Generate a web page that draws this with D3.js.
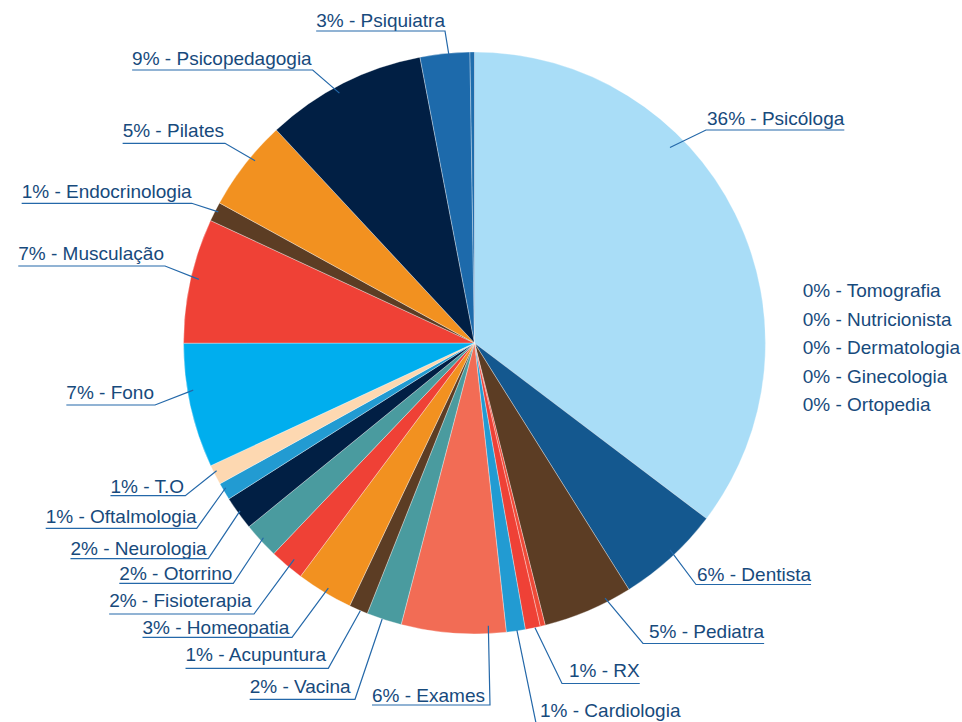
<!DOCTYPE html>
<html>
<head>
<meta charset="utf-8">
<script src="https://cdn.jsdelivr.net/npm/d3@7"></script>
<style>
  html, body { margin: 0; padding: 0; background: #ffffff; }
  svg { display: block; }
  text { font-family: "Liberation Sans", Arial, Helvetica, sans-serif; }
</style>
</head>
<body>
<svg id="chart" width="962" height="722"></svg>
<script>
// ---------- data ----------
const categories = [
  "Psicóloga", "Dentista", "Pediatra", "outros-1", "RX", "Cardiologia", "Exames",
  "Vacina", "Acupuntura", "Homeopatia", "Fisioterapia", "Otorrino", "Neurologia",
  "Oftalmologia", "T.O", "Fono", "Musculação", "Endocrinologia", "Pilates",
  "Psicopedagogia", "Psiquiatra", "outros-2"
];
const values = [
  35.3, 5.78, 5.0, 0.28, 0.83, 1.05, 5.8,
  1.95, 1.05, 3.14, 1.92, 2.0, 1.88,
  0.96, 1.11, 6.92, 6.92, 1.08, 5.08,
  8.92, 2.75, 0.25
];
const percentLabels = [
  "36%", "6%", "5%", "", "1%", "1%", "6%",
  "2%", "1%", "3%", "2%", "2%", "2%",
  "1%", "1%", "7%", "7%", "1%", "5%",
  "9%", "3%", ""
];
const zeroCategories = ["Tomografia", "Nutricionista", "Dermatologia", "Ginecologia", "Ortopedia"];
const zeroPercent = "0%";

// ---------- styles ----------
const colors = [
  "#a9ddf7", "#14588f", "#5c3d24", "#ef4a38", "#ef4136", "#229bd2", "#f26c55",
  "#4a9b9f", "#5c3d24", "#f29120", "#ef4136", "#4a9b9f", "#011f44",
  "#229bd2", "#fdd8b1", "#00aeee", "#ef4136", "#5c3d24", "#f29120",
  "#011f44", "#1d6aab", "#1f6dad"
];
const textColor = "#174a7c";
const lineColor = "#2468a9";

// ---------- label layout (annotation placement) ----------
// side, text x (start for R, end for L), baseline, underline y, elbow x, anchor angle (deg), anchor radius factor
const labelLayout = {
  "Psicóloga":      ["R", 707,   125,   130,   706,   45,    0.95],
  "Dentista":       ["R", 697,   581,   584.5, 696,   136.6, 0.978],
  "Pediatra":       ["R", 649,   638,   643.5, 643,   152.9, 0.985],
  "RX":             ["R", 569,   677,   683.5, 562,   168.0, 1.0],
  "Cardiologia":    ["R", 540,   717,   723,   536,   171.6, 0.997],
  "Exames":         ["L", 485,   701.7, 705,   490,   177.2, 0.973],
  "Vacina":         ["L", 350.7, 692.7, 699.3, 355,   198.5, 1.0],
  "Acupuntura":     ["L", 326,   660.7, 668.3, 328.3, 203.1, 1.0],
  "Homeopatia":     ["L", 289.3, 634.3, 637.3, 292,   210.8, 0.981],
  "Fisioterapia":   ["L", 251.7, 607.3, 614,   254,   219.8, 0.968],
  "Otorrino":       ["L", 232.3, 580,   583.3, 233.3, 227.3, 0.987],
  "Neurologia":     ["L", 206.7, 555,   558.7, 208.3, 234.4, 0.991],
  "Oftalmologia":   ["L", 196.7, 522.7, 528.3, 196.7, 239.8, 0.989],
  "T.O":            ["L", 184,   493.3, 495.7, 185.3, 243.65,0.989],
  "Fono":           ["L", 154,   399.3, 405,   155,   260.5, 0.98],
  "Musculação":     ["L", 164,   260,   266,   165,   283.0, 0.972],
  "Endocrinologia": ["L", 191.7, 197.7, 203.3, 191.7, 297.1, 0.989],
  "Pilates":        ["L", 224,   136.7, 143.3, 225,   309.7, 0.98],
  "Psicopedagogia": ["L", 311.7, 65,    70,    312.7, 331.6, 0.976],
  "Psiquiatra":     ["L", 445,   27.3,  31,    445,   355,   0.976]
};

// ---------- chart ----------
const cx = 474.5, cy = 343, radius = 291;
const fontSize = 19;

const svg = d3.select("#chart");
const g = svg.append("g").attr("transform", `translate(${cx},${cy})`);

const data = categories.map((c, i) => ({ name: c, value: values[i], color: colors[i], pct: percentLabels[i] }));

const pie = d3.pie().value(d => d.value).sort(null).startAngle(0).endAngle(2 * Math.PI);
const arc = d3.arc().innerRadius(0).outerRadius(radius);
const arcs = pie(data);

g.selectAll("path.slice")
  .data(arcs)
  .join("path")
  .attr("class", "slice")
  .attr("d", arc)
  .attr("fill", d => d.data.color)
  .attr("stroke", "rgba(255,255,255,0.55)")
  .attr("stroke-width", 0.6);

// labels with leader lines
const labelG = svg.append("g");
arcs.forEach(a => {
  const lay = labelLayout[a.data.name];
  if (!lay || !a.data.pct) return;
  const [side, tx, by, ly, ex, deg, rf] = lay;
  const ang = deg * Math.PI / 180;
  const ax = cx + Math.sin(ang) * radius * rf;
  const ay = cy - Math.cos(ang) * radius * rf;

  const t = labelG.append("text")
    .attr("x", tx)
    .attr("y", by)
    .attr("text-anchor", side === "R" ? "start" : "end")
    .attr("font-size", fontSize)
    .attr("fill", textColor)
    .text(`${a.data.pct} - ${a.data.name}`);
  const w = t.node().getComputedTextLength();

  let x1, x2;
  if (side === "R") { x1 = Math.min(ex, tx); x2 = tx + w; }
  else { x1 = tx - w; x2 = Math.max(ex, tx); }

  const pts = side === "R"
    ? [[ax, ay], [ex, ly], [x2, ly]]
    : [[ax, ay], [ex, ly], [x1, ly]];
  labelG.append("path")
    .attr("d", d3.line()(pts))
    .attr("fill", "none")
    .attr("stroke", lineColor)
    .attr("stroke-width", 1.2);
});

// zero-value categories listed at the right
const zeroG = svg.append("g");
const zeroScale = d3.scalePoint().domain(zeroCategories).range([297.3, 411]);
zeroG.selectAll("text")
  .data(zeroCategories)
  .join("text")
  .attr("x", 802.7)
  .attr("y", d => zeroScale(d))
  .attr("font-size", fontSize)
  .attr("fill", textColor)
  .text(d => `${zeroPercent} - ${d}`);
</script>
</body>
</html>
